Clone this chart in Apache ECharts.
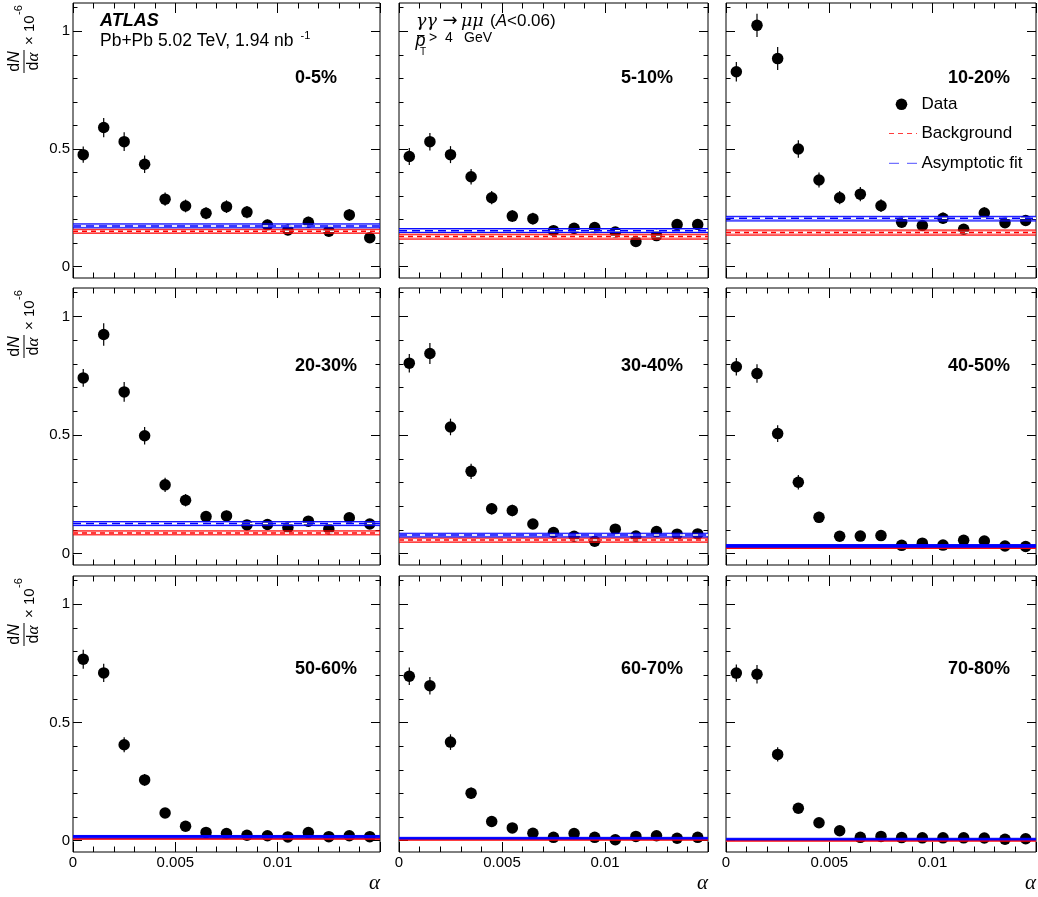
<!DOCTYPE html>
<html><head><meta charset="utf-8">
<script src="https://cdn.jsdelivr.net/npm/echarts@6/dist/echarts.min.js"></script>
<style>html,body{margin:0;padding:0;background:#fff}#c{width:1038px;height:897px}</style>
</head><body><div id="c"></div>
<script>
const centralityLabels = ['0-5%','5-10%','10-20%','20-30%','30-40%','40-50%','50-60%','60-70%','70-80%'];
const alphaBinCenters = [0.0005,0.0015,0.0025,0.0035,0.0045,0.0055,0.0065,0.0075,0.0085,0.0095,0.0105,0.0115,0.0125,0.0135,0.0145];
const alphaMin = 0, alphaMax = 0.015;
const xTickValues = [0, 0.005, 0.01];
const xTickLabels = ['0','0.005','0.01'];
const yTickValues = [0, 0.5, 1];
const yTickLabels = ['0','0.5','1'];
const yMinorTickValues = [0.1,0.2,0.3,0.4,0.6,0.7,0.8,0.9,1.1];

const yield_0_5   = [0.476,0.591,0.531,0.435,0.287,0.258,0.227,0.255,0.232,0.177,0.156,0.189,0.151,0.220,0.123];
const err_0_5     = [0.035,0.041,0.040,0.037,0.028,0.027,0.026,0.027,0.026,0.023,0.022,0.023,0.022,0.025,0.020];
const yield_5_10  = [0.468,0.531,0.476,0.382,0.293,0.215,0.204,0.153,0.163,0.166,0.147,0.107,0.132,0.179,0.179];
const err_5_10    = [0.036,0.037,0.036,0.033,0.028,0.025,0.025,0.022,0.022,0.022,0.021,0.018,0.019,0.022,0.022];
const yield_10_20 = [0.828,1.025,0.884,0.500,0.368,0.293,0.308,0.259,0.189,0.175,0.206,0.159,0.228,0.187,0.196];
const err_10_20   = [0.041,0.049,0.049,0.037,0.032,0.028,0.030,0.027,0.023,0.022,0.024,0.021,0.025,0.023,0.023];
const yield_20_30 = [0.741,0.924,0.682,0.497,0.290,0.225,0.156,0.159,0.121,0.123,0.110,0.137,0.104,0.151,0.125];
const err_20_30   = [0.037,0.047,0.042,0.037,0.030,0.026,0.022,0.022,0.020,0.020,0.019,0.021,0.018,0.021,0.020];
const yield_30_40 = [0.803,0.844,0.534,0.347,0.189,0.182,0.125,0.089,0.073,0.052,0.103,0.074,0.093,0.082,0.083];
const err_30_40   = [0.039,0.044,0.035,0.032,0.024,0.024,0.020,0.017,0.016,0.014,0.018,0.016,0.017,0.016,0.016];
const yield_40_50 = [0.788,0.759,0.506,0.301,0.153,0.073,0.074,0.076,0.035,0.044,0.036,0.056,0.053,0.032,0.030];
const err_40_50   = [0.037,0.039,0.035,0.031,0.024,0.016,0.016,0.016,0.011,0.012,0.011,0.014,0.014,0.011,0.011];
const yield_50_60 = [0.768,0.710,0.406,0.257,0.117,0.061,0.035,0.030,0.023,0.021,0.016,0.034,0.017,0.021,0.017];
const err_50_60   = [0.040,0.039,0.032,0.025,0.018,0.013,0.010,0.009,0.008,0.008,0.007,0.010,0.007,0.008,0.007];
const yield_60_70 = [0.696,0.656,0.417,0.201,0.081,0.054,0.031,0.014,0.030,0.014,0.004,0.018,0.021,0.010,0.014];
const err_60_70   = [0.037,0.037,0.033,0.024,0.015,0.012,0.009,0.007,0.009,0.007,0.004,0.008,0.008,0.006,0.007];
const yield_70_80 = [0.709,0.704,0.365,0.137,0.076,0.042,0.014,0.018,0.013,0.012,0.012,0.012,0.011,0.006,0.008];
const err_70_80   = [0.037,0.039,0.030,0.019,0.014,0.010,0.006,0.007,0.006,0.006,0.006,0.006,0.005,0.004,0.005];

const fitCenter = [0.173,0.153,0.206,0.127,0.078,0.032,0.017,0.010,0.006];
const fitLow    = [0.165,0.145,0.194,0.118,0.070,0.027,0.012,0.007,0.003];
const fitHigh   = [0.182,0.162,0.214,0.135,0.086,0.038,0.022,0.014,0.010];
const bkgCenter = [0.151,0.128,0.145,0.087,0.057,0.025,0.008,0.004,0.000];
const bkgLow    = [0.142,0.117,0.134,0.079,0.048,0.022,0.006,0.002,-0.002];
const bkgHigh   = [0.159,0.138,0.156,0.096,0.066,0.027,0.010,0.006,0.002];

const yields = [yield_0_5,yield_5_10,yield_10_20,yield_20_30,yield_30_40,yield_40_50,yield_50_60,yield_60_70,yield_70_80];
const errs = [err_0_5,err_5_10,err_10_20,err_20_30,err_30_40,err_40_50,err_50_60,err_60_70,err_70_80];

const FONT = "'Liberation Sans', Arial, Helvetica, sans-serif";
const colLeft = [73, 399, 726], colWidth = [307, 309, 310];
const rowTop = [3, 288, 576], rowHeight = [275, 277, 276];
const labelY = [78.5, 366, 669];

const grids = [], xAxes = [], yAxes = [], series = [], graphics = [];

function bandRenderer(color, fill, dash) {
  return function (params, api) {
    const x0 = api.value(0), x1 = api.value(1);
    const lo = api.value(2), c = api.value(3), hi = api.value(4);
    const pLo0 = api.coord([x0, lo]), pLo1 = api.coord([x1, lo]);
    const pHi0 = api.coord([x0, hi]);
    const pC0 = api.coord([x0, c]), pC1 = api.coord([x1, c]);
    const h = pLo0[1] - pHi0[1];
    const narrow = h < 3.2;
    const children = [
      {type: 'rect', shape: {x: pLo0[0], y: pHi0[1], width: pLo1[0] - pLo0[0], height: h}, style: {fill: narrow ? color : fill}},
      {type: 'line', shape: {x1: pLo0[0], y1: pLo0[1], x2: pLo1[0], y2: pLo1[1]}, style: {stroke: color, lineWidth: 1}},
      {type: 'line', shape: {x1: pHi0[0], y1: pHi0[1], x2: pLo1[0], y2: pHi0[1]}, style: {stroke: color, lineWidth: 1}}
    ];
    if (!narrow) {
      children.push({type: 'line', shape: {x1: pC0[0], y1: pC0[1], x2: pC1[0], y2: pC1[1]}, style: {stroke: '#fff', lineWidth: 1.5}});
      children.push({type: 'line', shape: {x1: pC0[0], y1: pC0[1], x2: pC1[0], y2: pC1[1]}, style: {stroke: color, lineWidth: 1.5, lineDash: dash}});
    }
    return {type: 'group', children: children};
  };
}

function errRenderer(params, api) {
  const x = api.value(0), y = api.value(1), e = api.value(2);
  const p1 = api.coord([x, y - e]), p2 = api.coord([x, y + e]);
  return {type: 'line', shape: {x1: p1[0], y1: p1[1], x2: p2[0], y2: p2[1]}, style: {stroke: '#000', lineWidth: 1.2}};
}

for (let i = 0; i < 9; i++) {
  const r = Math.floor(i / 3), c = i % 3;
  grids.push({left: colLeft[c], top: rowTop[r], width: colWidth[c], height: rowHeight[r],
    show: true, borderColor: '#000', borderWidth: 1, backgroundColor: 'transparent',
    containLabel: false, outerBoundsMode: 'none'});
  const xBase = {gridIndex: i, type: 'value', min: alphaMin, max: alphaMax, interval: 0.005,
    axisLine: {show: false, onZero: false}, splitLine: {show: false}, minorSplitLine: {show: false},
    axisTick: {show: true, inside: true, length: 10, lineStyle: {color: '#000', width: 1}},
    minorTick: {show: true, splitNumber: 5, length: 5.5, lineStyle: {color: '#000', width: 1}}};
  xAxes.push(Object.assign({}, xBase, {position: 'bottom',
    axisLabel: {show: r === 2, margin: 3, color: '#000', fontSize: 15, fontFamily: FONT,
      showMaxLabel: false,
      formatter: function (v) { const k = xTickValues.findIndex(t => Math.abs(t - v) < 1e-9); return k >= 0 ? xTickLabels[k] : ''; }}}));
  xAxes.push(Object.assign({}, xBase, {position: 'top', axisLabel: {show: false}}));
  const yBase = {gridIndex: i, type: 'value', min: -0.048, max: 1.12,
    axisLine: {show: false, onZero: false}, splitLine: {show: false}};
  const yMajorTick = {show: true, inside: true, length: 9, customValues: yTickValues, lineStyle: {color: '#000', width: 1}};
  const yMinorTick = {show: true, inside: true, length: 4.5, customValues: yMinorTickValues, lineStyle: {color: '#000', width: 1}};
  yAxes.push(Object.assign({}, yBase, {position: 'left', axisTick: yMajorTick,
    axisLabel: {show: c === 0, customValues: yTickValues, margin: 3, color: '#000', fontSize: 15, fontFamily: FONT,
      formatter: function (v) { const k = yTickValues.findIndex(t => Math.abs(t - v) < 1e-9); return k >= 0 ? yTickLabels[k] : ''; }}}));
  yAxes.push(Object.assign({}, yBase, {position: 'left', axisTick: yMinorTick, axisLabel: {show: false}}));
  yAxes.push(Object.assign({}, yBase, {position: 'right', axisTick: yMajorTick, axisLabel: {show: false}}));
  yAxes.push(Object.assign({}, yBase, {position: 'right', axisTick: yMinorTick, axisLabel: {show: false}}));

  const pts = alphaBinCenters.map((x, k) => [x, yields[i][k]]);
  const ebs = alphaBinCenters.map((x, k) => [x, yields[i][k], errs[i][k]]);
  series.push({type: 'custom', xAxisIndex: 2 * i, yAxisIndex: 4 * i, renderItem: errRenderer,
    encode: {x: 0, y: 1}, data: ebs, z: 2, silent: true});
  series.push({type: 'scatter', name: 'Data', xAxisIndex: 2 * i, yAxisIndex: 4 * i, data: pts,
    symbol: 'circle', symbolSize: 11.5, itemStyle: {color: '#000', opacity: 1}, z: 2, silent: true});
  series.push({type: 'custom', name: 'Background', xAxisIndex: 2 * i, yAxisIndex: 4 * i,
    renderItem: bandRenderer('#ff0000', 'rgba(255,60,60,0.45)', [5, 4]),
    encode: {x: [0, 1], y: [2, 3, 4]}, data: [[alphaMin, alphaMax, bkgLow[i], bkgCenter[i], bkgHigh[i]]], z: 3, silent: true});
  series.push({type: 'custom', name: 'Asymptotic fit', xAxisIndex: 2 * i, yAxisIndex: 4 * i,
    renderItem: bandRenderer('#0000ff', 'rgba(40,40,255,0.45)', [8, 5]),
    encode: {x: [0, 1], y: [2, 3, 4]}, data: [[alphaMin, alphaMax, fitLow[i], fitCenter[i], fitHigh[i]]], z: 3, silent: true});

  graphics.push({type: 'text', x: colLeft[c] + 222, y: labelY[r],
    style: {text: centralityLabels[i], font: 'bold 18px ' + FONT, fill: '#000', textAlign: 'left', textVerticalAlign: 'middle'}});

  if (r === 2) {
    graphics.push({type: 'text', x: colLeft[c] + colWidth[c], y: 883,
      style: {text: 'α', font: "italic 21px 'Liberation Serif', 'DejaVu Serif', serif", fill: '#000', textAlign: 'right', textVerticalAlign: 'middle'}});
  }
}

// y-axis titles (rotated fraction dN/dα × 10^-6)
for (let r = 0; r < 3; r++) {
  graphics.push({type: 'group', x: 24, y: rowTop[r] + 70, rotation: Math.PI / 2, children: [
    {type: 'text', x: 11.5, y: -1, style: {text: '{n|d}{i|N}', textAlign: 'center', textVerticalAlign: 'bottom',
      rich: {n: {font: '16px ' + FONT, fill: '#000'}, i: {font: 'italic 16px ' + FONT, fill: '#000'}}}},
    {type: 'line', shape: {x1: 0, y1: 0, x2: 23, y2: 0}, style: {stroke: '#000', lineWidth: 1}},
    {type: 'text', x: 11.5, y: 1, style: {text: '{n|d}{i|α}', textAlign: 'center', textVerticalAlign: 'top',
      rich: {n: {font: '16px ' + FONT, fill: '#000'}, i: {font: "italic 17px 'Liberation Serif', serif", fill: '#000'}}}},
    {type: 'text', x: 28, y: 5.5, style: {text: '× 10', font: '15px ' + FONT, fill: '#000', textAlign: 'left', textVerticalAlign: 'middle'}},
    {type: 'text', x: 58, y: -5, style: {text: '-6', font: '11px ' + FONT, fill: '#000', textAlign: 'left', textVerticalAlign: 'middle'}}
  ]});
}

// header texts
graphics.push({type: 'text', x: 100, y: 21, style: {text: 'ATLAS', font: 'bold italic 18px ' + FONT, fill: '#000', textVerticalAlign: 'middle'}});
graphics.push({type: 'text', x: 100, y: 41.5, style: {text: 'Pb+Pb 5.02 TeV, 1.94 nb', font: '17.5px ' + FONT, fill: '#000', textVerticalAlign: 'middle'}});
graphics.push({type: 'text', x: 300.5, y: 36, style: {text: '-1', font: '11px ' + FONT, fill: '#000', textVerticalAlign: 'middle'}});
const greekFont = "italic 17.5px 'DejaVu Serif', 'Liberation Serif', serif";
graphics.push({type: 'text', x: 416, y: 21, style: {text: 'γγ', font: greekFont, fill: '#000', textVerticalAlign: 'middle'}});
graphics.push({type: 'text', x: 450, y: 21, style: {text: '→', font: "18px 'DejaVu Sans', sans-serif", fill: '#000', textAlign: 'center', textVerticalAlign: 'middle'}});
graphics.push({type: 'text', x: 461, y: 21, style: {text: 'μμ', font: greekFont, fill: '#000', textVerticalAlign: 'middle'}});
graphics.push({type: 'text', x: 490, y: 21.5, style: {text: '{n|(}{i|A}{n|<0.06)}', textVerticalAlign: 'middle',
  rich: {n: {font: '17px ' + FONT, fill: '#000'}, i: {font: 'italic 17px ' + FONT, fill: '#000'}}}});
graphics.push({type: 'text', x: 415.5, y: 41, style: {text: 'p', font: 'italic 18px ' + FONT, fill: '#000', textVerticalAlign: 'middle'}});
graphics.push({type: 'line', shape: {x1: 417, y1: 35.5, x2: 424.5, y2: 35.5}, style: {stroke: '#000', lineWidth: 1}});
graphics.push({type: 'text', x: 420, y: 52, style: {text: 'T', font: '10px ' + FONT, fill: '#000', textVerticalAlign: 'middle'}});
graphics.push({type: 'text', x: 429, y: 38.5, style: {text: '>', font: '14px ' + FONT, fill: '#000', textVerticalAlign: 'middle'}});
graphics.push({type: 'text', x: 445, y: 38.5, style: {text: '4', font: '14px ' + FONT, fill: '#000', textVerticalAlign: 'middle'}});
graphics.push({type: 'text', x: 464, y: 38.5, style: {text: 'GeV', font: '14px ' + FONT, fill: '#000', textVerticalAlign: 'middle'}});

// legend
graphics.push({type: 'circle', shape: {cx: 901.5, cy: 104.3, r: 5.8}, style: {fill: '#000'}});
graphics.push({type: 'text', x: 921.5, y: 104.3, style: {text: 'Data', font: '17px ' + FONT, fill: '#000', textVerticalAlign: 'middle'}});
graphics.push({type: 'line', shape: {x1: 889, y1: 133.5, x2: 917, y2: 133.5}, style: {stroke: 'rgb(255,60,60)', lineWidth: 1, lineDash: [5, 4]}});
graphics.push({type: 'text', x: 921.5, y: 133.5, style: {text: 'Background', font: '17px ' + FONT, fill: '#000', textVerticalAlign: 'middle'}});
graphics.push({type: 'line', shape: {x1: 889, y1: 163.3, x2: 917, y2: 163.3}, style: {stroke: 'rgb(80,80,255)', lineWidth: 1, lineDash: [10, 8]}});
graphics.push({type: 'text', x: 921.5, y: 163.3, style: {text: 'Asymptotic fit', font: '17px ' + FONT, fill: '#000', textVerticalAlign: 'middle'}});

const chart = echarts.init(document.getElementById('c'), null, {renderer: 'canvas'});
chart.setOption({
  animation: false,
  backgroundColor: '#fff',
  grid: grids,
  xAxis: xAxes,
  yAxis: yAxes,
  series: series,
  graphic: graphics
});
</script></body></html>
